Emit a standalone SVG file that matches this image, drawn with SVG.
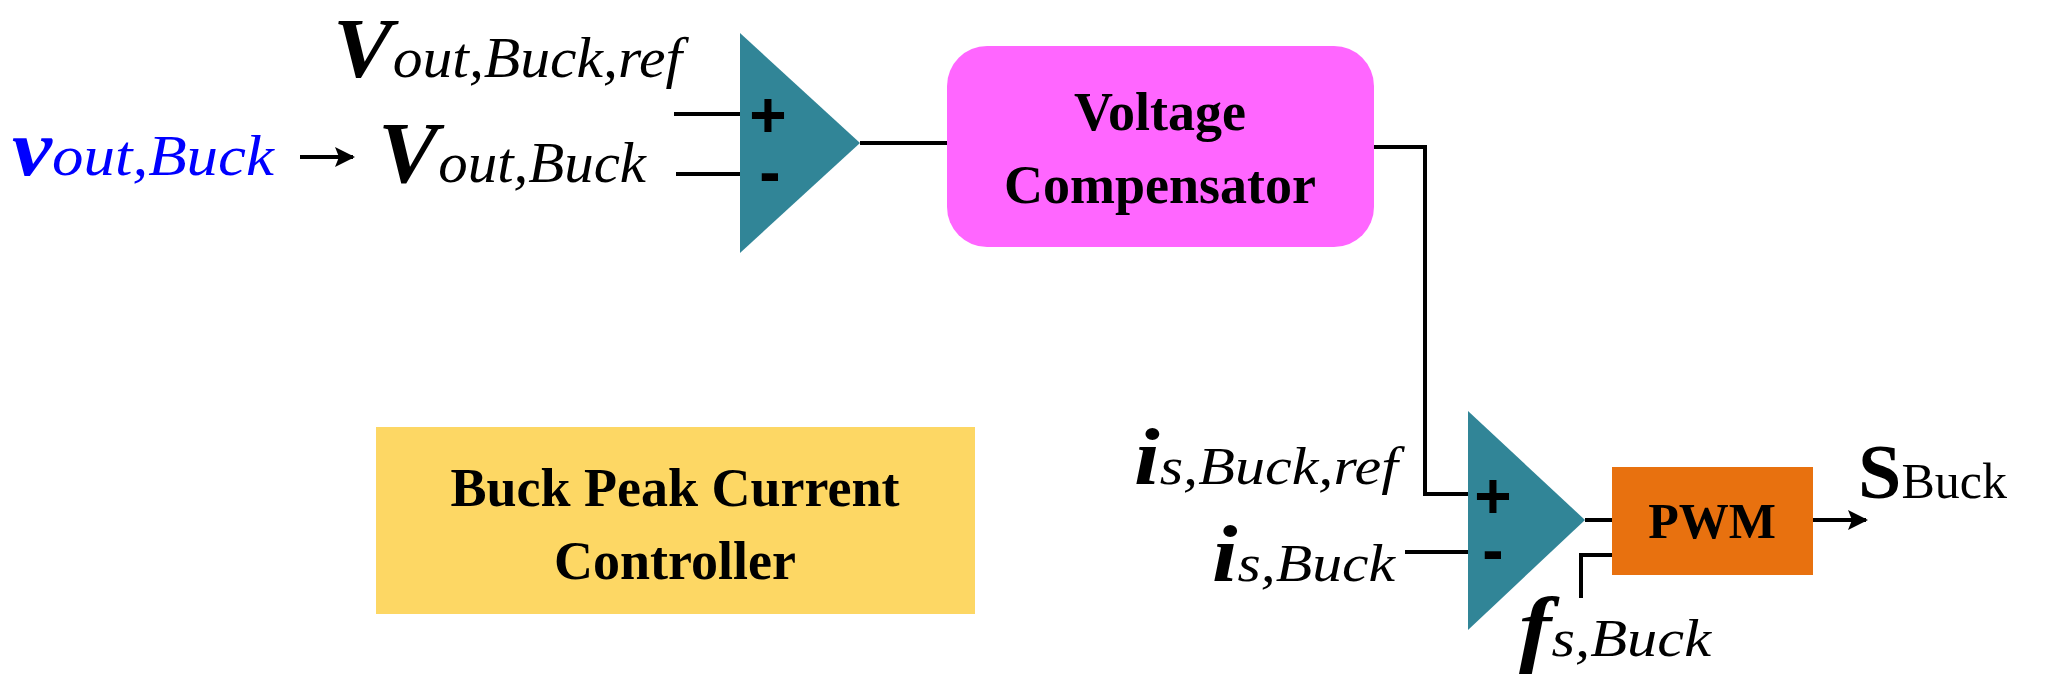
<svg xmlns="http://www.w3.org/2000/svg" width="2046" height="696" viewBox="0 0 2046 696">
<style>
.w{stroke:#000;stroke-width:4;fill:none}
.t{font-family:"Liberation Serif",serif}
.bi{font-style:italic;font-weight:bold}
.it{font-style:italic}
.blk{font-family:"Liberation Serif",serif;font-weight:bold;text-anchor:middle}
.sg{font-family:"Liberation Sans",sans-serif;font-weight:bold;text-anchor:middle;font-size:64px}
</style>
<defs><marker id="ah" markerWidth="5" markerHeight="5" refX="4.5" refY="2.5" orient="auto" markerUnits="strokeWidth"><path d="M0,0L5,2.5L0,5L1,2.5z" fill="#000"/></marker></defs>
<g id="connectors">
<line class="w" x1="674" y1="114" x2="740" y2="114"/>
<line class="w" x1="676" y1="174" x2="740" y2="174"/>
<line class="w" x1="860" y1="143" x2="947" y2="143"/>
<polyline class="w" points="1374,147 1425,147 1425,494 1468,494"/>
<line class="w" x1="1405" y1="552" x2="1468" y2="552"/>
<line class="w" x1="1585" y1="520" x2="1612" y2="520"/>
<polyline class="w" points="1612,555 1581,555 1581,598"/>
<line class="w" x1="1813" y1="520" x2="1866" y2="520" marker-end="url(#ah)"/>
<line class="w" x1="300" y1="157" x2="353" y2="157" marker-end="url(#ah)"/>
</g>
<g id="sum1"><polygon points="740,33 740,253 860,143" fill="#318597"/>
<text class="sg" x="768" y="137">+</text><text class="sg" x="770" y="194">-</text></g>
<g id="comp"><rect x="947" y="46" width="427" height="201" rx="40" fill="#FF66FF"/>
<text class="blk" x="1160" y="130" font-size="54">Voltage</text>
<text class="blk" x="1160" y="203" font-size="54">Compensator</text></g>
<g id="sum2"><polygon points="1468,411 1468,630 1585,520" fill="#318597"/>
<text class="sg" x="1493" y="518">+</text><text class="sg" x="1493" y="572">-</text></g>
<g id="pwm"><rect x="1612" y="467" width="201" height="108" fill="#E8710F"/>
<text class="blk" x="1712" y="538" font-size="50">PWM</text></g>
<g id="title"><rect x="376" y="427" width="599" height="187" fill="#FDD764"/>
<text class="blk" x="675" y="506" font-size="54">Buck Peak Current</text>
<text class="blk" x="675" y="579" font-size="54">Controller</text></g>
<g id="labels">
<text class="t" x="333" y="77" textLength="349" lengthAdjust="spacingAndGlyphs"><tspan class="bi" font-size="84">V</tspan><tspan class="it" font-size="56">out,Buck,ref</tspan></text>
<text class="t" x="12" y="175" fill="#0000FF" textLength="262" lengthAdjust="spacingAndGlyphs"><tspan class="bi" font-size="80">v</tspan><tspan class="it" font-size="56">out,Buck</tspan></text>
<text class="t" x="378" y="182" textLength="268" lengthAdjust="spacingAndGlyphs"><tspan class="bi" font-size="86">V</tspan><tspan class="it" font-size="56">out,Buck</tspan></text>
<text class="t" x="1134" y="484" textLength="264" lengthAdjust="spacingAndGlyphs"><tspan class="bi" font-size="80">i</tspan><tspan class="it" font-size="52">s,Buck,ref</tspan></text>
<text class="t" x="1212" y="581" textLength="183" lengthAdjust="spacingAndGlyphs"><tspan class="bi" font-size="80">i</tspan><tspan class="it" font-size="52">s,Buck</tspan></text>
<text class="t" x="1519" y="656" textLength="192" lengthAdjust="spacingAndGlyphs"><tspan class="bi" font-size="84">f</tspan><tspan class="it" font-size="52">s,Buck</tspan></text>
<text class="t" x="1858" y="498"><tspan font-weight="bold" font-size="78">S</tspan><tspan font-size="50">Buck</tspan></text>
</g>
</svg>
